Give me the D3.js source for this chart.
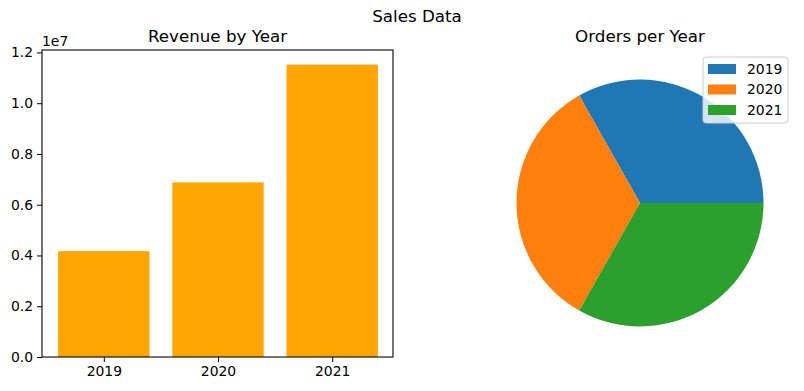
<!DOCTYPE html>
<html lang="en">
<head>
  <meta charset="UTF-8">
  <title>Sales Data</title>
  <script src="https://d3js.org/d3.v7.min.js"></script>
  <style>
    body { margin: 0; background: #fff; font-family: "DejaVu Sans", sans-serif; }
    text { fill: #000; }
  </style>
</head>
<body>
  <svg id="svg"></svg>
  <script>
    const years = ["2019", "2020", "2021"];
    const revenue = [4170000, 6880000, 11520000];
    const orders = [3190, 3230, 3190];
    const yTicks = [0, 0.2e7, 0.4e7, 0.6e7, 0.8e7, 1.0e7, 1.2e7];
    const pieColors = ["#1f77b4", "#ff7f0e", "#2ca02c"];

    const W = 804, H = 391;
    const svg = d3.select("#svg").attr("width", W).attr("height", H);

    svg.append("text")
      .attr("x", 417).attr("y", 22)
      .attr("text-anchor", "middle")
      .style("font-size", "16.7px")
      .text("Sales Data");

    // bar chart
    const ax = { left: 42, right: 393, top: 50, bottom: 357 };
    const x = d3.scaleLinear().domain([0, 2]).range([103.8, 332.2]);
    const y = d3.scaleLinear().domain([0, d3.max(revenue) * 1.05]).range([ax.bottom, ax.top]);

    const bars = svg.append("g");
    bars.selectAll("rect")
      .data(revenue)
      .join("rect")
      .attr("x", (d, i) => x(i - 0.4))
      .attr("width", x(0.8) - x(0))
      .attr("y", d => y(d))
      .attr("height", d => y(0) - y(d))
      .attr("fill", "orange");

    const xAxis = svg.append("g")
      .attr("transform", `translate(0,${ax.bottom})`)
      .call(d3.axisBottom(x).tickValues([0, 1, 2]).tickFormat(i => years[i]).tickSize(5).tickPadding(4));
    const yAxis = svg.append("g")
      .attr("transform", `translate(${ax.left},0)`)
      .call(d3.axisLeft(y).tickValues(yTicks).tickFormat(d => (d / 1e7).toFixed(1)).tickSize(5).tickPadding(4));
    [xAxis, yAxis].forEach(g => {
      g.attr("font-size", null).attr("font-family", null);
      g.select(".domain").remove();
      g.selectAll("text").style("font-size", "13.9px");
      g.selectAll("line").attr("stroke", "#000").attr("stroke-width", 1);
    });

    svg.append("rect")
      .attr("x", ax.left).attr("y", ax.top)
      .attr("width", ax.right - ax.left).attr("height", ax.bottom - ax.top)
      .attr("fill", "none").attr("stroke", "#000").attr("stroke-width", 1.1);

    svg.append("text")
      .attr("x", ax.left).attr("y", ax.top - 4)
      .style("font-size", "13.9px")
      .text("1e7");

    svg.append("text")
      .attr("x", (ax.left + ax.right) / 2).attr("y", 42)
      .attr("text-anchor", "middle")
      .style("font-size", "16.7px")
      .text("Revenue by Year");

    // pie chart
    const cx = 640, cy = 203, r = 123.5;
    const pie = d3.pie().sort(null).startAngle(Math.PI / 2).endAngle(Math.PI / 2 - 2 * Math.PI);
    const arc = d3.arc().innerRadius(0).outerRadius(r);
    svg.append("g")
      .attr("transform", `translate(${cx},${cy})`)
      .selectAll("path")
      .data(pie(orders))
      .join("path")
      .attr("d", arc)
      .attr("fill", (d, i) => pieColors[i]);

    svg.append("text")
      .attr("x", cx).attr("y", 42)
      .attr("text-anchor", "middle")
      .style("font-size", "16.7px")
      .text("Orders per Year");

    // legend
    const lg = svg.append("g").attr("transform", "translate(703,57)");
    lg.append("rect")
      .attr("width", 85).attr("height", 66).attr("rx", 3)
      .attr("fill", "#fff").attr("fill-opacity", 0.8)
      .attr("stroke", "#cccccc").attr("stroke-width", 1);
    years.forEach((yr, i) => {
      lg.append("rect")
        .attr("x", 5).attr("y", 7 + i * 20.5)
        .attr("width", 28).attr("height", 10)
        .attr("fill", pieColors[i]);
      lg.append("text")
        .attr("x", 44).attr("y", 16.5 + i * 20.5)
        .style("font-size", "13.9px")
        .text(yr);
    });
  </script>
</body>
</html>
